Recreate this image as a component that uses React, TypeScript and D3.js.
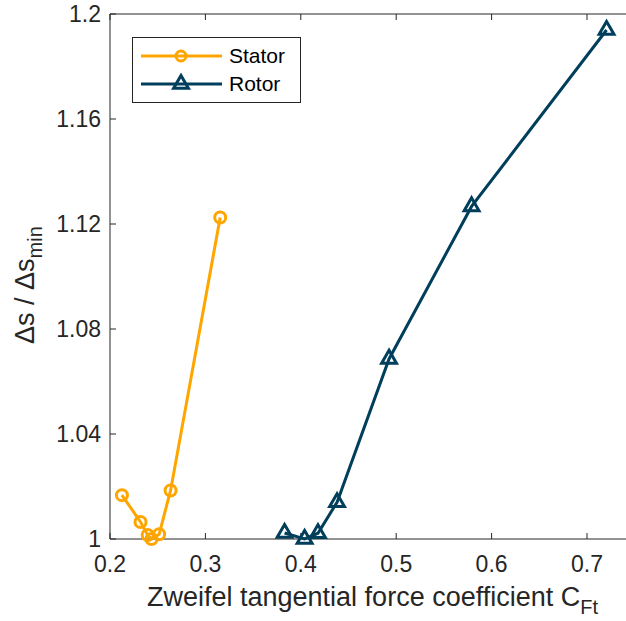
import React from "react";
import * as d3 from "d3";

const statorX = [0.2125, 0.232, 0.2395, 0.2435, 0.2515, 0.2635, 0.3155];
const statorY = [1.0167, 1.0065, 1.0015, 1.0, 1.0018, 1.0185, 1.1225];
const rotorX = [0.383, 0.404, 0.418, 0.438, 0.4925, 0.579, 0.7205];
const rotorY = [1.0023, 1.0, 1.0022, 1.014, 1.0686, 1.1267, 1.1939];
const xTicks = [0.2, 0.3, 0.4, 0.5, 0.6, 0.7];
const yTicks = [1, 1.04, 1.08, 1.12, 1.16, 1.2];
const xTickLabels = ["0.2", "0.3", "0.4", "0.5", "0.6", "0.7"];
const yTickLabels = ["1", "1.04", "1.08", "1.12", "1.16", "1.2"];
const seriesNames = ["Stator", "Rotor"];

const W = 626;
const H = 621;
const STATOR = "#FFA500";
const ROTOR = "#003F5C";
const AX = "#262626";
const FONT = "'Liberation Sans', Arial, Helvetica, sans-serif";
const LW = 3;

export default function App() {
  const x = d3.scaleLinear().domain([0.2, 0.75]).range([110, 110 + 0.55 * 954]);
  const y = d3.scaleLinear().domain([1, 1.2]).range([539, 14]);
  const line = d3
    .line<[number, number]>()
    .x((d) => x(d[0]))
    .y((d) => y(d[1]));
  const sData: [number, number][] = statorX.map((v, i) => [v, statorY[i]]);
  const rData: [number, number][] = rotorX.map((v, i) => [v, rotorY[i]]);
  const tri = d3.symbol().type(d3.symbolTriangle).size(95)();
  const x0 = x.range()[0];
  const x1 = x.range()[1];
  const yb = y(1);
  const yt = y(1.2);
  const tl = 6;

  return (
    <svg
      width={W}
      height={H}
      style={{ position: "absolute", left: 0, top: 0, background: "#fff" }}
      fontFamily={FONT}
    >
      <rect x={0} y={0} width={W} height={H} fill="#fff" />
      {/* axes lines */}
      <line x1={x0} x2={x1} y1={yb} y2={yb} stroke={AX} strokeWidth={1} />
      <line x1={x0} x2={x1} y1={yt} y2={yt} stroke={AX} strokeWidth={1} />
      <line x1={x0} x2={x0} y1={yt} y2={yb} stroke={AX} strokeWidth={1} />
      {xTicks.map((t, i) => (
        <g key={"xt" + i}>
          <line x1={x(t)} x2={x(t)} y1={yb} y2={yb - tl} stroke={AX} />
          <line x1={x(t)} x2={x(t)} y1={yt} y2={yt + tl} stroke={AX} />
          <text x={x(t)} y={572} textAnchor="middle" fontSize={23} fill={AX}>
            {xTickLabels[i]}
          </text>
        </g>
      ))}
      {yTicks.map((t, i) => (
        <g key={"yt" + i}>
          <line x1={x0} x2={x0 + tl} y1={y(t)} y2={y(t)} stroke={AX} />
          <text x={101} y={y(t) + 8} textAnchor="end" fontSize={23} fill={AX}>
            {yTickLabels[i]}
          </text>
        </g>
      ))}
      {/* series */}
      <path d={line(sData) || ""} fill="none" stroke={STATOR} strokeWidth={LW} />
      {sData.map((d, i) => (
        <circle key={"sc" + i} cx={x(d[0])} cy={y(d[1])} r={5.5} fill="none" stroke={STATOR} strokeWidth={LW} />
      ))}
      <path d={line(rData) || ""} fill="none" stroke={ROTOR} strokeWidth={LW} />
      {rData.map((d, i) => (
        <path
          key={"rt" + i}
          d={tri || ""}
          transform={`translate(${x(d[0])},${y(d[1])})`}
          fill="none"
          stroke={ROTOR}
          strokeWidth={LW}
        />
      ))}
      {/* axis labels */}
      <text x={147} y={606} fontSize={27} fill={AX}>
        Zweifel tangential force coefficient C
        <tspan fontSize={20} dy={8}>Ft</tspan>
      </text>
      <text transform="translate(34,344) rotate(-90)" fontSize={27} fill={AX}>
        Δs / Δs
        <tspan fontSize={20} dy={8}>min</tspan>
      </text>
      {/* legend */}
      <rect x={132.5} y={37.5} width={168} height={65} fill="#fff" stroke={AX} strokeWidth={1} />
      <line x1={141} x2={222} y1={56} y2={56} stroke={STATOR} strokeWidth={LW} />
      <circle cx={181} cy={56} r={5} fill="none" stroke={STATOR} strokeWidth={LW} />
      <text x={229} y={63} fontSize={21} fill="#000">{seriesNames[0]}</text>
      <line x1={141} x2={222} y1={84} y2={84} stroke={ROTOR} strokeWidth={LW} />
      <path d={tri || ""} transform="translate(181,84)" fill="none" stroke={ROTOR} strokeWidth={LW} />
      <text x={229} y={91} fontSize={21} fill="#000">{seriesNames[1]}</text>
    </svg>
  );
}
